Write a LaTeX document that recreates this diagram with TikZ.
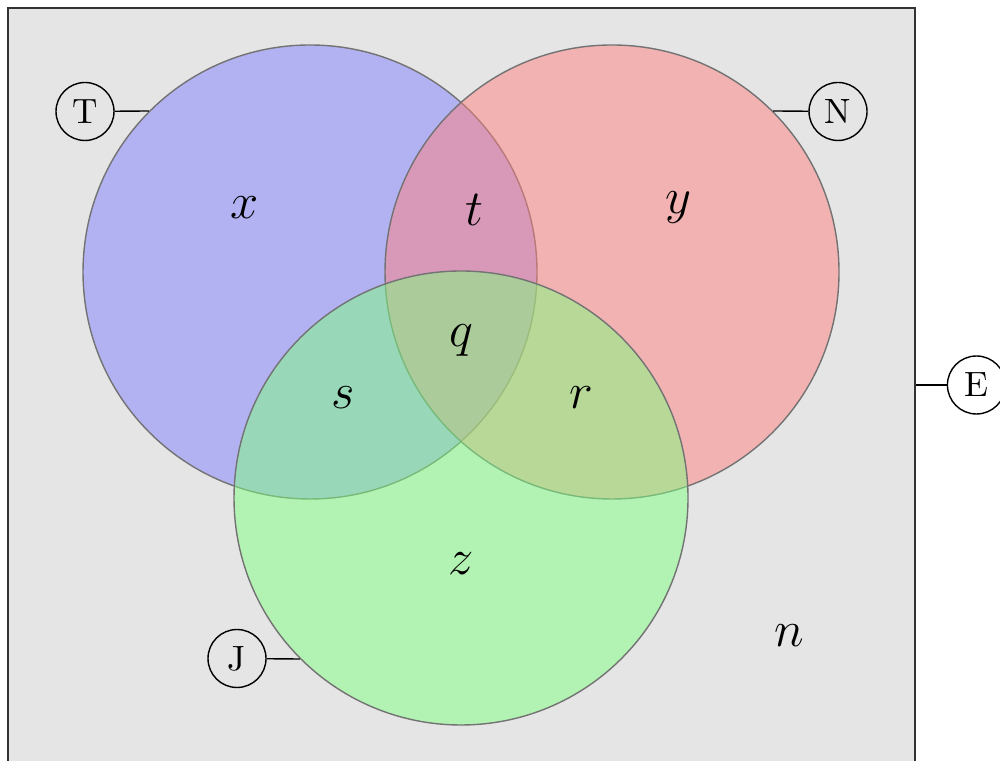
\documentclass[tikz,border=0pt]{standalone}
\usepackage{tikz}
\usetikzlibrary{positioning}

\begin{document}
\begin{tikzpicture}[
    set/.style={circle,draw=black!55,fill opacity=0.5,minimum size=4.54cm,inner sep=0pt},
    tag/.style={circle,draw,minimum size=0.58cm,inner sep=0pt,font=\fontsize{10}{12}\selectfont},
    region/.style={font=\Large},
    link/.style={thin}]
  \useasboundingbox (0,0) rectangle (10,7.6);
  \node[draw=black!80,fill=black!10,minimum width=9.07cm,minimum height=7.54cm,inner sep=0pt] (universe) at (4.615,3.75) {};

  \node[set,fill=blue!50] (blue) at (3.10,4.88) {};
  \node[set,fill=red!50] (red) at (6.12,4.88) {};
  \node[set,fill=green!50] (green) at (4.61,2.62) {};

  \node[tag] (T) at (0.85,6.485) {T};
  \node[tag] (N) at (8.38,6.485) {N};
  \node[tag] (J) at (2.37,1.015) {J};
  \node[tag,right=0.31cm of universe] (E) {E};

  \draw[link] (T) -- (blue.135);
  \draw[link] (N) -- (red.45);
  \draw[link] (J) -- (green.225);
  \draw[link] (universe.east) -- (E);

  \node[region] (rx) at (2.45,5.52) {$x$};
  \node[region] (rt) at (4.74,5.50) {$t$};
  \node[region] (ry) at (6.78,5.52) {$y$};
  \node[region] (rq) at (4.61,4.19) {$q$};
  \node[region] (rs) at (3.43,3.62) {$s$};
  \node[region] (rr) at (5.81,3.62) {$r$};
  \node[region] (rz) at (4.61,1.96) {$z$};
  \node[region] (rn) at (7.89,1.24) {$n$};
\end{tikzpicture}
\end{document}
